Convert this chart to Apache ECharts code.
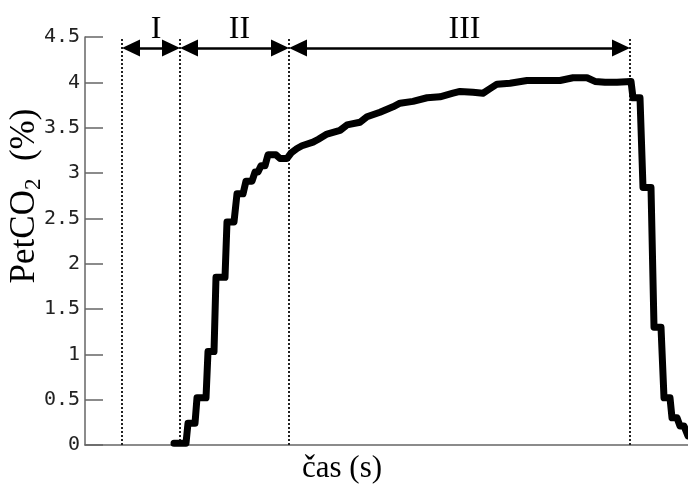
<!DOCTYPE html>
<html>
<head>
<meta charset="utf-8">
<script src="https://cdn.jsdelivr.net/npm/echarts@6/dist/echarts.min.js"></script>
<style>html,body{margin:0;padding:0;background:#fff;}#c{width:688px;height:488px;}</style>
</head>
<body>
<div id="c"></div>
<script>
// time (arbitrary units) and PetCO2 (%)
var time = [8.9,10.1,10.3,11.0,11.2,12.1,12.3,12.9,13.1,14.0,14.2,14.9,15.2,15.8,16.1,16.7,17.0,17.3,17.6,18.0,18.3,19.1,19.5,20.2,20.6,21.2,21.7,22.8,23.3,24.2,25.5,26.2,27.5,28.2,29.5,30.8,31.5,32.8,34.2,35.5,36.8,37.5,38.8,39.8,40.5,41.2,42.5,44.2,45.8,47.5,48.8,50.2,51.0,52.0,53.2,54.6,54.8,55.5,55.8,56.6,56.9,57.6,57.9,58.5,58.7,59.2,59.5,59.9,60.3];
var petco2 = [0.02,0.02,0.24,0.24,0.52,0.52,1.03,1.03,1.85,1.85,2.46,2.46,2.77,2.77,2.91,2.91,3.01,3.01,3.08,3.08,3.20,3.20,3.16,3.16,3.22,3.27,3.30,3.34,3.37,3.43,3.47,3.53,3.56,3.62,3.67,3.73,3.77,3.79,3.83,3.84,3.88,3.90,3.89,3.88,3.93,3.98,3.99,4.02,4.02,4.02,4.05,4.05,4.01,4.00,4.00,4.01,3.83,3.83,2.84,2.84,1.30,1.30,0.52,0.52,0.30,0.30,0.21,0.21,0.10];
var yTicks = [0,0.5,1,1.5,2,2.5,3,3.5,4,4.5];
var phaseBounds = [3.7, 9.5, 20.4, 54.5];
var phaseNames = ['I','II','III'];
var arrowLevel = 4.38;
var xName = 'čas (s)';

var headLen = 18;           // arrow head length in px
var headInset = headLen / 2 / 10; // px -> x units (10 px per unit)
var pts = time.map(function(t,i){return [t, petco2[i]];});
var vlines = phaseBounds.map(function(b){return {xAxis: b};});
var arrows = phaseNames.map(function(n,i){
  return [{coord:[phaseBounds[i] + headInset, arrowLevel], name:n},
          {coord:[phaseBounds[i+1] - headInset, arrowLevel]}];
});

var chart = echarts.init(document.getElementById('c'), null, {renderer:'canvas'});
chart.setOption({
  animation:false,
  backgroundColor:'#fff',
  grid:{left:85, right:0, top:37, bottom:43, containLabel:false},
  xAxis:{type:'value', min:0, max:60.3, axisLine:{show:true, lineStyle:{color:'#666', width:1.5}},
    axisTick:{show:false}, axisLabel:{show:false}, splitLine:{show:false}},
  yAxis:{type:'value', min:0, max:4.5, interval:0.5,
    axisLine:{show:true, lineStyle:{color:'#666', width:1.5}},
    axisTick:{show:true, inside:true, length:18, lineStyle:{color:'#666', width:1.5}},
    axisLabel:{color:'#222', fontFamily:'DejaVu Sans Mono', fontSize:20, margin:5,
      formatter:function(v){return String(+v.toFixed(1));}},
    splitLine:{show:false}},
  series:[
    {type:'line', data:pts, showSymbol:false, symbol:'none',
      lineStyle:{color:'#000', width:7, join:'round', cap:'round'}, z:5,
      markLine:{silent:true, symbol:['none','none'], animation:false,
        lineStyle:{type:'dotted', color:'#222', width:2},
        label:{show:false}, data:vlines}},
    {type:'line', data:[], markLine:{silent:true, animation:false,
        symbol:['triangle','triangle'], symbolSize:[17,headLen],
        lineStyle:{type:'solid', color:'#000', width:2.5},
        label:{show:true, position:'insideMiddleTop', distance:2, formatter:'{b}',
          padding:[0,0,0,10],
          color:'#000', fontFamily:'Liberation Serif', fontSize:32},
        data:arrows}}
  ],
  graphic:[
    {type:'text', x:342, y:469, style:{text:xName, fontFamily:'Liberation Serif', fontSize:31, fill:'#000', align:'center', verticalAlign:'middle'}},
    {type:'text', x:25, y:196, rotation:Math.PI/2,
      style:{text:'{a|PetCO}{b|2}{a|  (%)}', align:'center', verticalAlign:'middle',
        rich:{a:{fontFamily:'Liberation Serif', fontSize:35, lineHeight:40, fill:'#000'},
              b:{fontFamily:'Liberation Serif', fontSize:23, lineHeight:22, verticalAlign:'bottom', fill:'#000'}}}}
  ]
});
</script>
</body>
</html>
